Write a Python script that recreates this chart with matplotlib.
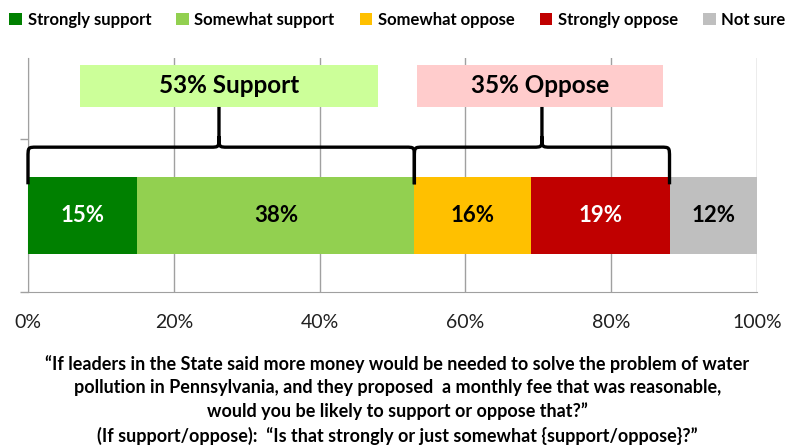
import matplotlib
matplotlib.use("Agg")
import matplotlib.pyplot as plt
from matplotlib.path import Path
from matplotlib.patches import PathPatch, Rectangle
from matplotlib.ticker import FuncFormatter

plt.rcParams['font.family'] = ['Lato', 'DejaVu Sans']

categories = ["Strongly support", "Somewhat support", "Somewhat oppose", "Strongly oppose", "Not sure"]
values = [15, 38, 16, 19, 12]
colors = ["#008000", "#92D050", "#FFC000", "#C00000", "#BFBFBF"]
label_colors = ["white", "black", "black", "white", "black"]
x_ticks = [0, 20, 40, 60, 80, 100]
support_label = "53% Support"
oppose_label = "35% Oppose"
support_total = 53
oppose_total = 35
caption = ("\u201cIf leaders in the State said more money would be needed to solve the problem of water\n"
           "pollution in Pennsylvania, and they proposed  a monthly fee that was reasonable,\n"
           "would you be likely to support or oppose that?\u201d\n"
           "(If support/oppose):  \u201cIs that strongly or just somewhat {support/oppose}?\u201d")

fig = plt.figure(figsize=(7.95, 4.47), dpi=100)
ax = fig.add_axes([0.0352, 0.3468, 0.9170, 0.5234])

left = 0
for cat, v, c, lc in zip(categories, values, colors, label_colors):
    ax.barh(0, v, left=left, height=0.5, color=c, label=cat, zorder=3)
    ax.text(left + v / 2, 0, f"{v}%", ha="center", va="center", color=lc,
            fontsize=16, fontweight="bold", zorder=4)
    left += v

ax.set_xlim(0, 100)
ax.set_ylim(-0.5, 1.03)
ax.set_xticks(x_ticks)
ax.xaxis.set_major_formatter(FuncFormatter(lambda v, p: f"{v:.0f}%"))
ax.set_yticks([-0.5, 0.5])
ax.set_yticklabels([])
ax.tick_params(axis="y", length=6, color="#A0A0A0", width=1)
ax.tick_params(axis="x", length=0, labelsize=14, pad=16, colors="#202020")
ax.grid(axis="x", color="#A0A0A0", lw=1, zorder=0)
for s in ["top", "right"]:
    ax.spines[s].set_visible(False)
for s in ["left", "bottom"]:
    ax.spines[s].set_color("#A0A0A0")
    ax.spines[s].set_zorder(1)


def brace(x0, x1, xm, ytip, yh, ytop, rx=1.2, ry=0.07):
    verts = [(x0, ytip), (x0, yh - ry), (x0, yh), (x0, yh), (x0 + rx, yh),
             (xm - rx, yh), (xm, yh), (xm, yh), (xm, yh + ry), (xm, ytop),
             (xm, yh + ry), (xm, yh), (xm, yh), (xm + rx, yh),
             (x1 - rx, yh), (x1, yh), (x1, yh), (x1, yh - ry), (x1, ytip)]
    codes = [Path.MOVETO, Path.LINETO, Path.CURVE4, Path.CURVE4, Path.CURVE4,
             Path.LINETO, Path.CURVE4, Path.CURVE4, Path.CURVE4, Path.LINETO,
             Path.MOVETO, Path.CURVE4, Path.CURVE4, Path.CURVE4,
             Path.LINETO, Path.CURVE4, Path.CURVE4, Path.CURVE4, Path.LINETO]
    p = PathPatch(Path(verts, codes), fill=False, lw=2.4, ec="black",
                  zorder=5, capstyle="butt", joinstyle="round", clip_on=False)
    ax.add_patch(p)


ytip, yh, ytop = 0.204, 0.447, 0.71
brace(0, support_total, 26.2, ytip, yh, ytop)
brace(support_total, support_total + oppose_total, 70.5, ytip, yh, ytop)

box_y0, box_y1 = 0.71, 0.987
ax.add_patch(Rectangle((7.1, box_y0), 48.0 - 7.1, box_y1 - box_y0, fc="#CCFF99", ec="none", zorder=4))
ax.add_patch(Rectangle((53.4, box_y0), 87.1 - 53.4, box_y1 - box_y0, fc="#FFCCCC", ec="none", zorder=4))
ax.text((7.1 + 48.0) / 2, (box_y0 + box_y1) / 2, support_label, ha="center", va="center",
        fontsize=17.5, fontweight="bold", zorder=6)
ax.text((53.4 + 87.1) / 2, (box_y0 + box_y1) / 2, oppose_label, ha="center", va="center",
        fontsize=17.5, fontweight="bold", zorder=6)

fig.legend(loc="center", bbox_to_anchor=(0.5, 0.955), ncol=5, frameon=False,
           handlelength=0.75, handleheight=0.75, handletextpad=0.35, columnspacing=1.5,
           prop={"weight": "bold", "size": 12})

fig.text(0.5, 0.105, caption, ha="center", va="center", fontsize=13, fontweight="bold",
         linespacing=1.45)

fig.savefig("out.png", dpi=100)
